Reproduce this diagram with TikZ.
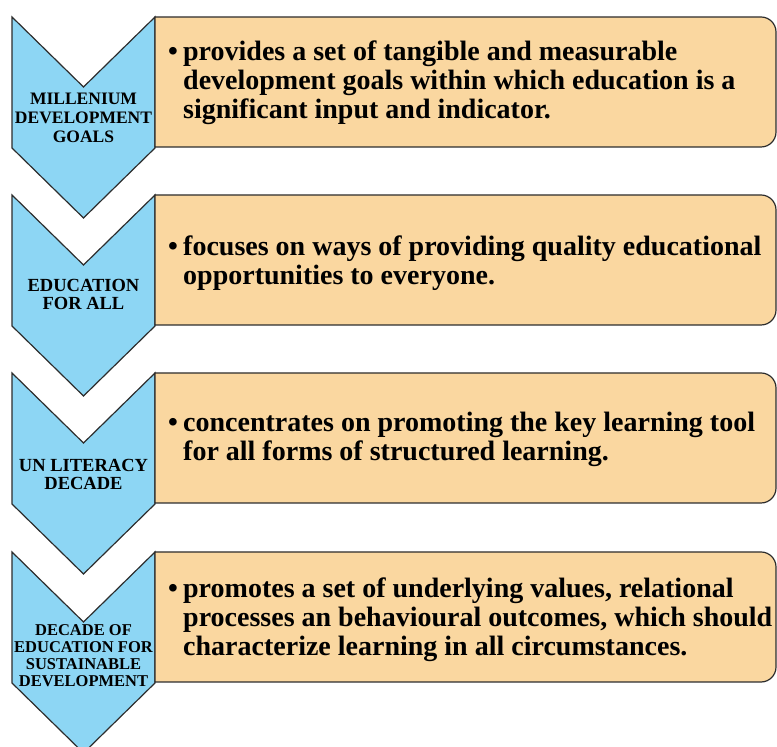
\documentclass[tikz,border=0pt]{standalone}
\usepackage{fontspec}
\setmainfont{Liberation Serif}

\definecolor{chevblue}{RGB}{141,214,244}
\definecolor{boxtan}{RGB}{250,215,160}
\definecolor{edgegray}{RGB}{45,45,45}

% bullet, then the lines hanging under the first word
\newcommand{\bulletlines}[1]{\makebox[15pt][l]{\textbullet}\begin{tabular}[t]{@{}l@{}}#1\end{tabular}}

\tikzset{
	chevron/.style={draw=edgegray, fill=chevblue, line width=1.2pt, line join=miter},
	infobox/.style={draw=edgegray, fill=boxtan, line width=1.2pt},
	chevlabel/.style={font=\bfseries\fontsize{18.5}{18}\selectfont, align=center, inner sep=0pt},
	infotext/.style={font=\bfseries\fontsize{28}{29}\selectfont, anchor=west, inner sep=0pt}
}

\begin{document}
\begin{tikzpicture}[x=1pt, y=1pt]
		\useasboundingbox (0,0) rectangle (777,747);

		% Chevrons down the left side
		\draw[chevron] (12,730) -- (83.5,660) -- (155,730) -- (155,599) -- (83.5,529) -- (12,599) -- cycle;
		\draw[chevron] (12,552) -- (83.5,482) -- (155,552) -- (155,421) -- (83.5,351) -- (12,421) -- cycle;
		\draw[chevron] (12,374) -- (83.5,304) -- (155,374) -- (155,243) -- (83.5,173) -- (12,243) -- cycle;
		\draw[chevron] (12,195) -- (83.5,125) -- (155,195) -- (155,64) -- (83.5,-6) -- (12,64) -- cycle;

		% Boxes, rounded on the right only
		\draw[infobox] (155,730) -- (761,730) arc[start angle=90, end angle=0, radius=15]
			-- (776,615) arc[start angle=0, end angle=-90, radius=15] -- (155,600) -- cycle;
		\draw[infobox] (155,552) -- (761,552) arc[start angle=90, end angle=0, radius=15]
			-- (776,437) arc[start angle=0, end angle=-90, radius=15] -- (155,422) -- cycle;
		\draw[infobox] (155,374) -- (761,374) arc[start angle=90, end angle=0, radius=15]
			-- (776,259) arc[start angle=0, end angle=-90, radius=15] -- (155,244) -- cycle;
		\draw[infobox] (155,195) -- (761,195) arc[start angle=90, end angle=0, radius=15]
			-- (776,80) arc[start angle=0, end angle=-90, radius=15] -- (155,65) -- cycle;

		% Chevron labels
		\node[chevlabel, font=\bfseries\fontsize{17.5}{19}\selectfont] (mdg) at (83.5,629) {MILLENIUM\\DEVELOPMENT\\GOALS};
		\node[chevlabel] (efa) at (83.5,453) {EDUCATION\\FOR ALL};
		\node[chevlabel] (unld) at (83.5,273) {UN LITERACY\\DECADE};
		\node[chevlabel, font=\bfseries\fontsize{16.5}{17}\selectfont] (desd) at (83.5,91)
			{DECADE OF\\EDUCATION FOR\\SUSTAINABLE\\DEVELOPMENT};

		% Box texts
		\node[infotext] (mdgtext) at (168,663.5) {\bulletlines{provides a set of tangible and measurable\\development goals within which education is a\\significant input and indicator.}};
		\node[infotext] (efatext) at (168,483) {\bulletlines{focuses on ways of providing quality educational\\opportunities to everyone.}};
		\node[infotext] (unldtext) at (168,306.5) {\bulletlines{concentrates on promoting the key learning tool\\for all forms of structured learning.}};
		\node[infotext] (desdtext) at (168,126.5) {\bulletlines{promotes a set of underlying values, relational\\processes an behavioural outcomes, which should\\characterize learning in all circumstances.}};
	\end{tikzpicture}
\end{document}
